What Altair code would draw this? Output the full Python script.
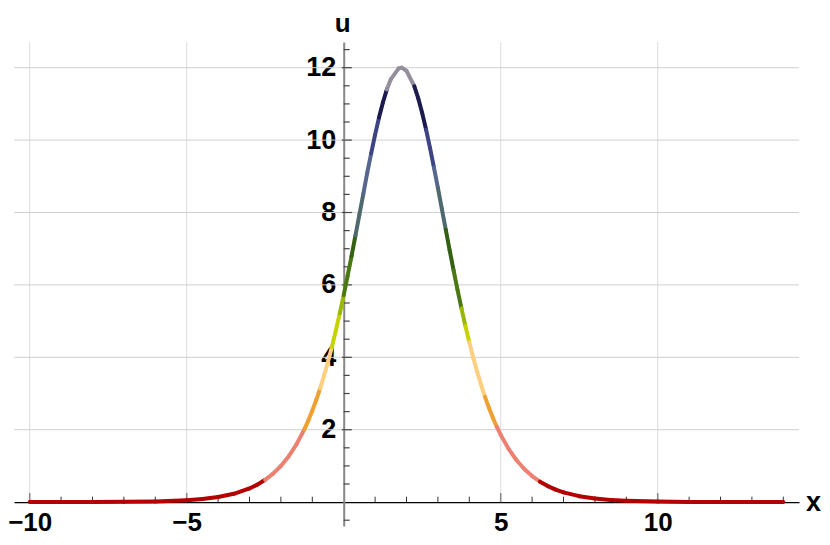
import altair as alt
import pandas as pd

# Curve values
x_vals = [-10, -9, -8, -7, -6, -5, -4.5, -4, -3.5, -3, -2.75, -2.5, -2.25, -2, -1.75,
          -1.5, -1.25, -1.125, -1, -0.875, -0.75, -0.625, -0.5, -0.375, -0.25, -0.125,
          0, 0.125, 0.25, 0.375, 0.5, 0.625, 0.75, 0.875, 1, 1.125, 1.25, 1.375, 1.5,
          1.75, 1.85, 2, 2.25, 2.375, 2.5, 2.625, 2.75, 2.875, 3, 3.125, 3.25, 3.375,
          3.5, 3.625, 3.75, 3.875, 4, 4.125, 4.25, 4.375, 4.5, 4.625, 4.75, 4.875, 5,
          5.25, 5.5, 5.75, 6, 6.25, 6.5, 6.75, 7, 7.5, 8, 8.5, 9, 10, 11, 12, 13, 14]
u_vals = [0.0004, 0.001, 0.0026, 0.007, 0.019, 0.052, 0.085, 0.140, 0.230, 0.377, 0.482,
          0.616, 0.785, 0.998, 1.266, 1.601, 2.016, 2.258, 2.526, 2.820, 3.143, 3.496,
          3.879, 4.293, 4.739, 5.214, 5.718, 6.248, 6.798, 7.365, 7.940, 8.516, 9.098,
          9.632, 10.150, 10.624, 11.045, 11.400, 11.679, 11.981, 12.0, 11.914, 11.487,
          11.150, 10.746, 10.287, 9.780, 9.240, 8.678, 8.101, 7.525, 6.955, 6.400, 5.864,
          5.353, 4.869, 4.415, 3.992, 3.600, 3.238, 2.907, 2.605, 2.331, 2.082, 1.857,
          1.472, 1.163, 0.916, 0.719, 0.564, 0.442, 0.345, 0.270, 0.164, 0.100, 0.061,
          0.037, 0.0136, 0.005, 0.0018, 0.0007, 0.0002]

# Colour bands by height
band_edges = [0.6, 2.0, 3.0, 4.3, 5.0, 5.6, 6.6, 7.6, 8.4, 9.4, 10.4, 11.5]
band_colors = ["#b30000", "#ec8172", "#f0a030", "#ffcf80", "#c6d300", "#98b806",
               "#4a7812", "#346014", "#4e6a6e", "#56668e", "#3d4384", "#1c1b4e", "#958e9d"]

x_ticks_major = [-10, -5, 5, 10]
x_ticks_minor = [-9, -8, -7, -6, -4, -3, -2, -1, 1, 2, 3, 4, 6, 7, 8, 9, 11, 12, 13, 14]
y_ticks_major = [2, 4, 6, 8, 10, 12]
y_ticks_minor = [-0.5, 0.5, 1, 1.5, 2.5, 3, 3.5, 4.5, 5, 5.5, 6.5, 7, 7.5, 8.5, 9, 9.5,
                 10.5, 11, 11.5, 12.5]

XMIN, XMAX = -10.5, 14.5
YMIN, YMAX = -0.66, 12.71
W, H = 785, 484
FONT = "Liberation Sans"

xs = alt.Scale(domain=[XMIN, XMAX], nice=False, zero=False)
ys = alt.Scale(domain=[YMIN, YMAX], nice=False, zero=False)

x_off = -(0 - YMIN) / (YMAX - YMIN) * H
y_off = -(0 - XMIN) / (XMAX - XMIN) * W

AX_X = alt.Axis(
    values=x_ticks_major, format="d", orient="bottom", offset=x_off, grid=False,
    ticks=False, domainColor="#000000", domainWidth=1.3, labelPadding=7,
    labelFont=FONT, labelFontWeight="bold", labelFontSize=26, labelColor="#000000",
    title="")
AX_Y = alt.Axis(
    values=y_ticks_major, format="d", orient="left", offset=y_off, grid=False,
    ticks=False, domainColor="#888888", domainWidth=2, labelPadding=8,
    labelFont=FONT, labelFontWeight="bold", labelFontSize=27, labelColor="#000000",
    title="")

rows = []
for i in range(len(x_vals) - 1):
    um = (u_vals[i] + u_vals[i + 1]) / 2
    rows.append({"seg": i, "x": x_vals[i], "u": u_vals[i], "um": um})
    rows.append({"seg": i, "x": x_vals[i + 1], "u": u_vals[i + 1], "um": um})
seg_df = pd.DataFrame(rows)

grid_df = pd.DataFrame({"v": x_ticks_major, "y0": [0.0] * 4, "y1": [YMAX] * 4})
vgrid = alt.Chart(grid_df).mark_rule(color="#dcdcdc", strokeWidth=1).encode(
    x=alt.X("v:Q", scale=xs, axis=AX_X),
    y=alt.Y("y0:Q", scale=ys, axis=AX_Y),
    y2="y1:Q",
)

hgrid_df = pd.DataFrame({"v": y_ticks_major, "x0": [XMIN] * 6, "x1": [XMAX] * 6})
hgrid = alt.Chart(hgrid_df).mark_rule(color="#d0d0d0", strokeWidth=1).encode(
    y=alt.Y("v:Q", scale=ys, axis=AX_Y),
    x=alt.X("x0:Q", scale=xs, axis=AX_X),
    x2="x1:Q",
)

xt_major = alt.Chart(pd.DataFrame({"v": x_ticks_major, "y0": [0.0] * 4, "top": [0.25] * 4})).mark_rule(
    color="#8a8a8a", strokeWidth=1.6
).encode(
    x=alt.X("v:Q", scale=xs, axis=AX_X),
    y=alt.Y("y0:Q", scale=ys, axis=AX_Y),
    y2="top:Q",
)
xt_minor = alt.Chart(pd.DataFrame({"v": x_ticks_minor, "y0": [0.0] * len(x_ticks_minor),
                                   "top": [0.15] * len(x_ticks_minor)})).mark_rule(
    color="#333333", strokeWidth=1.0
).encode(
    x=alt.X("v:Q", scale=xs, axis=AX_X),
    y=alt.Y("y0:Q", scale=ys, axis=AX_Y),
    y2="top:Q",
)

yt_df = pd.DataFrame({
    "v": y_ticks_major + y_ticks_minor,
    "left": [-0.06] * len(y_ticks_major) + [0.0] * len(y_ticks_minor),
    "right": [0.26] * len(y_ticks_major) + [0.19] * len(y_ticks_minor),
})
yticks = alt.Chart(yt_df).mark_rule(color="#444444", strokeWidth=1.2).encode(
    y=alt.Y("v:Q", scale=ys, axis=AX_Y),
    x=alt.X("left:Q", scale=xs, axis=AX_X),
    x2="right:Q",
)

curve = alt.Chart(seg_df).mark_line(strokeWidth=4, strokeCap="round", strokeJoin="round").encode(
    x=alt.X("x:Q", scale=xs, axis=AX_X),
    y=alt.Y("u:Q", scale=ys, axis=AX_Y),
    color=alt.Color("um:Q", scale=alt.Scale(type="threshold", domain=band_edges, range=band_colors), legend=None),
    detail="seg:N",
    order="x:Q",
)

u_lab = alt.Chart(pd.DataFrame({"t": ["u"], "px": [0.0], "py": [YMAX]})).mark_text(
    font=FONT, fontWeight="bold", fontSize=26, align="center", baseline="alphabetic",
    dy=-10, dx=-1, color="#000000"
).encode(x=alt.X("px:Q", scale=xs, axis=AX_X), y=alt.Y("py:Q", scale=ys, axis=AX_Y), text="t:N")

x_lab = alt.Chart(pd.DataFrame({"t": ["x"], "px": [XMAX], "py": [0.0]})).mark_text(
    font=FONT, fontWeight="bold", fontSize=27, align="left", baseline="alphabetic",
    dx=7, dy=9, color="#000000"
).encode(x=alt.X("px:Q", scale=xs, axis=AX_X), y=alt.Y("py:Q", scale=ys, axis=AX_Y), text="t:N")

chart = alt.layer(vgrid, hgrid, xt_major, xt_minor, yticks, curve, u_lab, x_lab).properties(
    width=W, height=H,
    autosize=alt.AutoSizeParams(type="none"),
    padding={"left": 6, "top": 34, "right": 23, "bottom": 11},
).configure_view(stroke=None)

chart.save("out.html", embed_options={"renderer": "svg", "actions": False})
